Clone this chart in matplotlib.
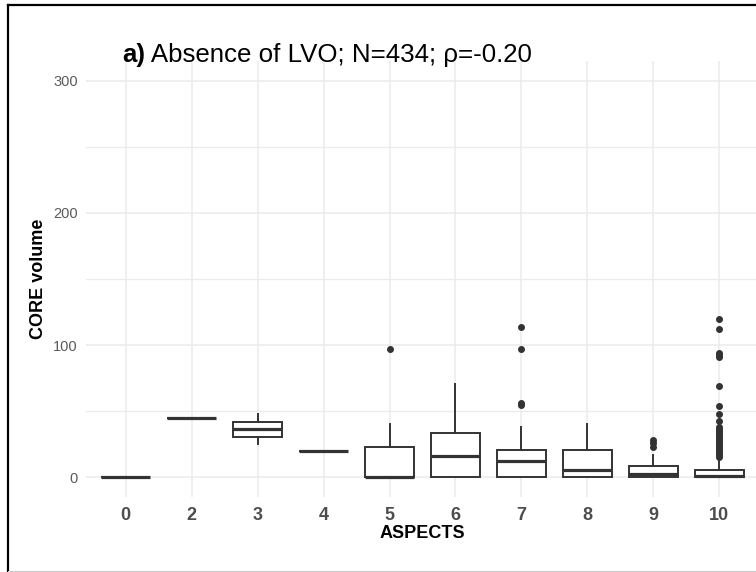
"""
Boxplot: CORE volume by ASPECTS score, absence of LVO.
"""

import matplotlib
matplotlib.use("Agg")
import matplotlib.pyplot as plt
from matplotlib.lines import Line2D

# --- DATA ---
aspects = ['0', '2', '3', '4', '5', '6', '7', '8', '9', '10']
q1 = [0, 45, 30.5, 20, 0, 0, 0, 0, 0, 0]
med = [0, 45, 36.4, 20, 0, 15.9, 12.4, 5.3, 2.5, 1.0]
q3 = [0, 45, 41.9, 20, 23, 33.8, 20.5, 20.7, 8.3, 5.8]
whislo = [0, 45, 25, 20, 0, 0, 0, 0, 0, 0]
whishi = [0, 45, 47.5, 20, 40.2, 70.5, 38, 40.6, 16.5, 13.2]
fliers = [
    [],
    [],
    [],
    [],
    [97],
    [],
    [114, 97, 56, 54.5],
    [],
    [28.3, 25.5, 23],
    [119.7, 112, 94.2, 92.5, 91.2, 69, 53.8, 47.7, 42.7, 38, 36.5, 35,
     33.5, 32, 30.5, 29, 27.5, 26, 24.5, 23, 21.5, 20, 18.5, 17, 15.5],
]

TITLE_BOLD = "a)"
TITLE_REST = " Absence of LVO; N=434; ρ=-0.20"

# --- STYLE ---
plt.rcParams['font.family'] = ['Liberation Sans', 'DejaVu Sans']
W, H = 756, 572
EDGE = '#333333'
GRID = '#ebebeb'

fig = plt.figure(figsize=(W / 100, H / 100), dpi=100)
ax = fig.add_axes([86 / W, 1 - 497 / H, (759 - 86) / W, (497 - 61) / H])

stats = []
for i in range(len(aspects)):
    stats.append({
        'q1': q1[i], 'med': med[i], 'q3': q3[i],
        'whislo': whislo[i], 'whishi': whishi[i],
        'fliers': fliers[i], 'label': aspects[i],
    })

positions = list(range(len(aspects)))
ax.bxp(stats, positions=positions, widths=0.75, showcaps=False,
       patch_artist=True,
       boxprops=dict(facecolor='white', edgecolor=EDGE, linewidth=1.4),
       medianprops=dict(color=EDGE, linewidth=2.3, solid_capstyle='butt'),
       whiskerprops=dict(color=EDGE, linewidth=1.4),
       flierprops=dict(marker='o', markerfacecolor=EDGE, markeredgecolor=EDGE,
                       markersize=4, linestyle='none'))

ax.set_xlim(-0.6, len(aspects) - 0.4)
ax.set_ylim(-15, 315)
ax.set_yticks([0, 100, 200, 300])
ax.set_yticks([50, 150, 250], minor=True)
ax.set_xticks(positions)
ax.set_xticklabels(aspects)

ax.grid(True, which='major', color=GRID, linewidth=1.1)
ax.grid(True, which='minor', axis='y', color=GRID, linewidth=0.9)
ax.set_axisbelow(True)
for s in ax.spines.values():
    s.set_visible(False)
ax.tick_params(which='both', length=0)
ax.tick_params(axis='y', labelsize=10.5, labelcolor='#5a5a5a', pad=6)
ax.tick_params(axis='x', labelsize=13, labelcolor='#4d4d4d', pad=7)
for lbl in ax.get_xticklabels():
    lbl.set_fontweight('bold')

ax.set_xlabel('ASPECTS', fontsize=13, fontweight='bold', labelpad=1)
ax.set_ylabel('CORE volume', fontsize=13, fontweight='bold', labelpad=4)

# title: bold "a)" followed by regular text
t1 = fig.text(122 / W, 1 - 62 / H, TITLE_BOLD, fontsize=18.6, fontweight='bold',
              va='baseline', ha='left')
fig.canvas.draw()
bb = t1.get_window_extent()
fig.text(bb.x1 / W, 1 - 62 / H, TITLE_REST, fontsize=18.6, va='baseline', ha='left')

# frame from the original screenshot
fig.add_artist(Line2D([8 / W, 8 / W], [0, 1 - 5 / H], color='black', linewidth=1.6))
fig.add_artist(Line2D([8 / W, 1], [1 - 5 / H, 1 - 5 / H], color='black', linewidth=1.6))
fig.add_artist(Line2D([8 / W, 1], [1 - 571 / H, 1 - 571 / H], color='#cccccc', linewidth=0.8))

fig.savefig('out.png', dpi=100)
